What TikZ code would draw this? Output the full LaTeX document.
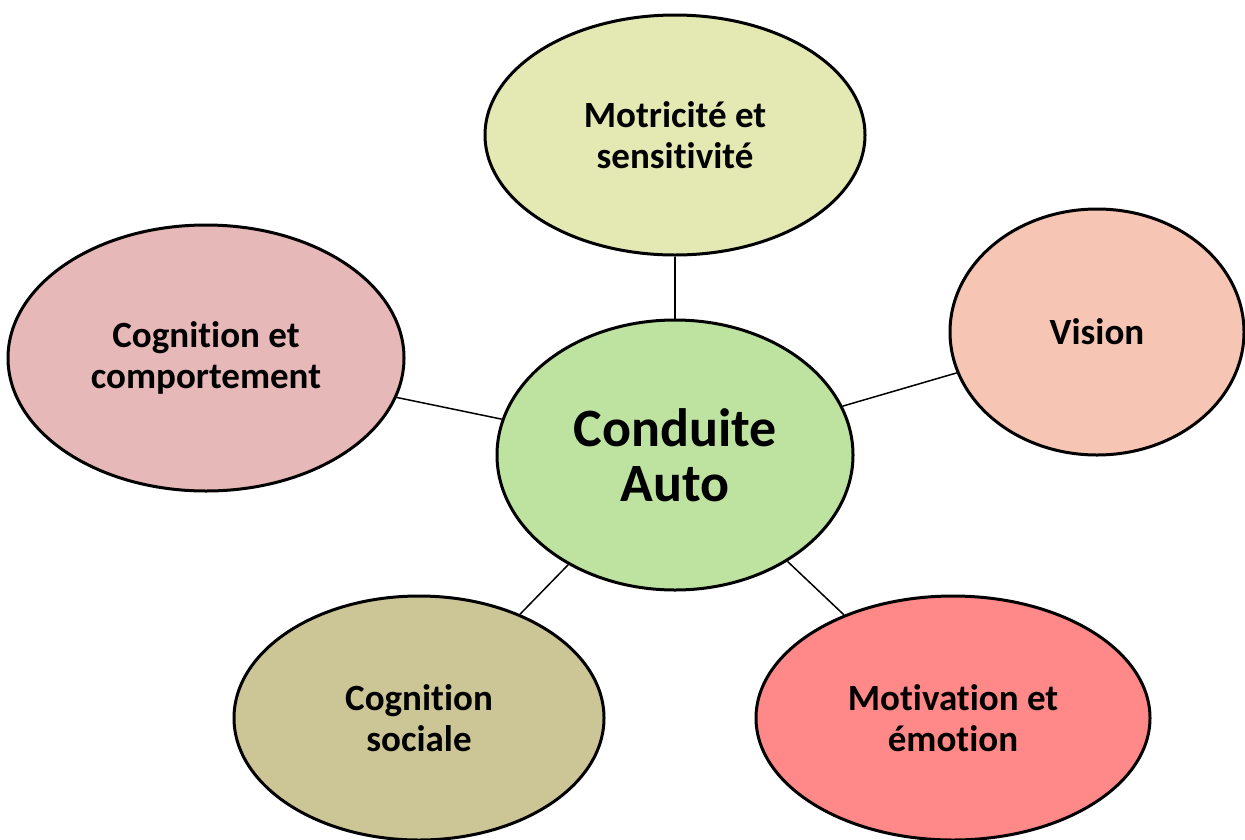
\documentclass[tikz,border=0pt]{standalone}
\usepackage{fontspec}
\setmainfont{Carlito}[Ligatures={NoCommon}]
\usepackage{tikz}
\usepackage{xcolor}
\usetikzlibrary{shapes.geometric}

\definecolor{motricite}{HTML}{E4E9B3}
\definecolor{cognitive}{HTML}{E6B8B7}
\definecolor{vision}{HTML}{F7C5B4}
\definecolor{conduite}{HTML}{BEE2A0}
\definecolor{sociale}{HTML}{CCC697}
\definecolor{emotion}{HTML}{FF8888}

\tikzset{
    bulle/.style={ellipse, draw=black, line width=3pt, inner sep=0pt, align=center,
        font=\fontsize{37}{41}\selectfont\bfseries},
    lien/.style={black, line width=1.5pt}
}

\begin{document}
\begin{tikzpicture}[x=1pt, y=-1pt]
        \useasboundingbox (0,0) rectangle (1245,839);

        \node[bulle, fill=conduite, minimum width=356, minimum height=270,
            font=\fontsize{54}{55}\selectfont\bfseries] (auto) at (675,455) {Conduite\\Auto};
        \node[bulle, fill=motricite, minimum width=380, minimum height=240] (motri) at (675,135) {Motricité et\\sensitivité};
        \node[bulle, fill=cognitive, minimum width=396, minimum height=266] (cogn) at (206,358) {Cognition et\\comportement};
        \node[bulle, fill=vision, minimum width=294, minimum height=246] (vis) at (1097,332) {Vision};
        \node[bulle, fill=sociale, minimum width=370, minimum height=244] (soc) at (419,718) {Cognition\\sociale};
        \node[bulle, fill=emotion, minimum width=394, minimum height=244] (emo) at (953,718) {Motivation et\\émotion};

        \draw[lien] (auto) -- (motri);
        \draw[lien] (auto) -- (cogn);
        \draw[lien] (auto) -- (vis);
        \draw[lien] (auto) -- (soc);
        \draw[lien] (auto) -- (emo);
    \end{tikzpicture}
\end{document}
